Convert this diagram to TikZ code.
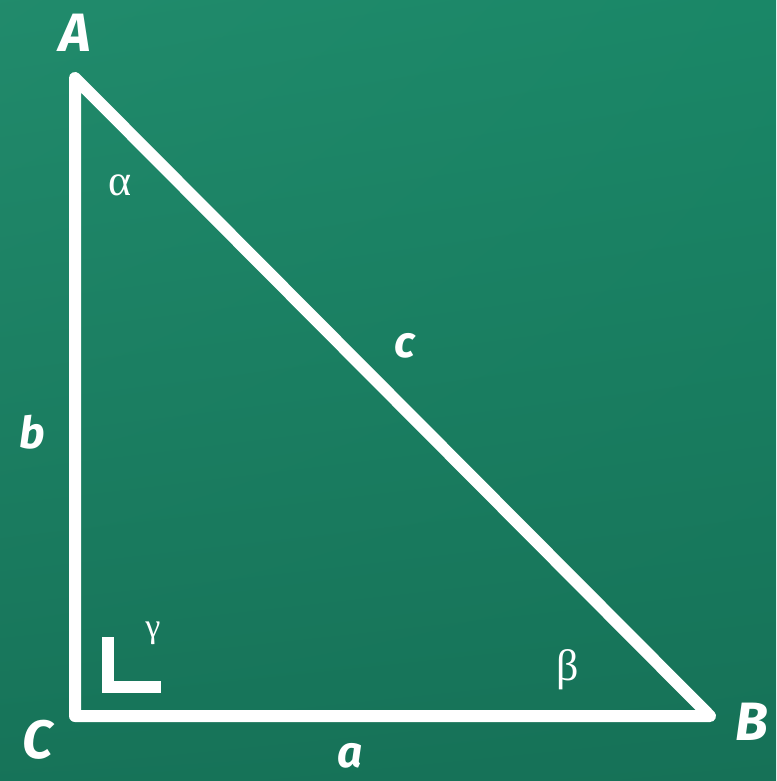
\documentclass[tikz,border=0pt]{standalone}
\usepackage{fontspec}
\usetikzlibrary{shadings}
\newfontfamily\handfont{Fira Sans}
\newfontfamily\greekfont{Liberation Serif}
\definecolor{bgA}{HTML}{1A8767}
\definecolor{bgB}{HTML}{167157}
\begin{document}
\begin{tikzpicture}[x=1pt,y=-1pt,
  side/.style={draw=white,line width=12pt,line join=round,line cap=round},
  vlabel/.style={text=white,font=\handfont\bfseries\itshape\fontsize{54}{54}\selectfont,inner sep=0pt},
  slabel/.style={text=white,font=\handfont\bfseries\itshape\fontsize{44}{44}\selectfont,inner sep=0pt},
  glabel/.style={text=white,font=\greekfont\fontsize{44}{44}\selectfont,inner sep=0pt}]
\shade[upper left=bgA!97!white,upper right=bgA,lower left=bgB!90!bgA,lower right=bgB] (0,0) rectangle (776,781);
\useasboundingbox (0,0) rectangle (776,781);
\coordinate (A) at (75,78);
\coordinate (C) at (75,716);
\coordinate (B) at (710,716);
\draw[side] (A) -- (C) -- (B) -- cycle;
\coordinate (r1) at (108,637);
\coordinate (r2) at (108,687);
\coordinate (r3) at (161,687);
\draw[draw=white,line width=12pt,line join=miter] (r1) -- (r2) -- (r3);
\node[vlabel] (lA) at (75,33) {A};
\node[vlabel] (lC) at (38,740) {C};
\node[vlabel] (lB) at (752,722) {B};
\node[slabel] (la) at (350,756) {a};
\node[slabel] (lb) at (32,432) {b};
\node[slabel] (lc) at (405,346) {c};
\node[glabel] (al) at (120,185) {α};
\node[glabel] (be) at (568,670) {β};
\node[glabel,font=\greekfont\fontsize{34}{34}\selectfont] (ga) at (153,633) {γ};
\end{tikzpicture}
\end{document}
